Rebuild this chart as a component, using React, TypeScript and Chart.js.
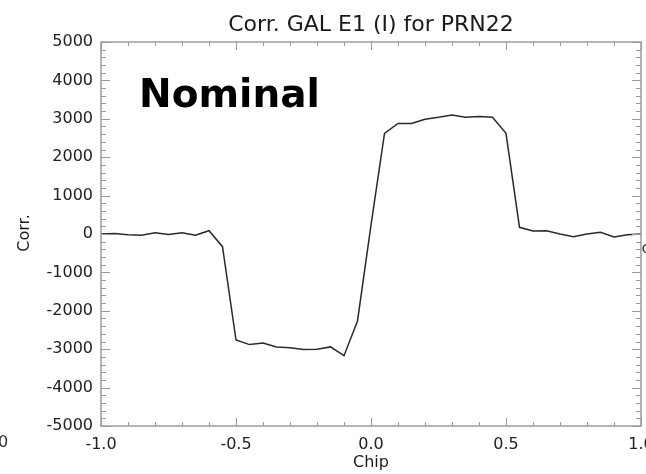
import React, { useEffect, useRef } from "react";
import { Chart, registerables } from "chart.js";

Chart.register(...registerables);

const chipValues = [
  -1.0, -0.95, -0.9, -0.85, -0.8, -0.75, -0.7, -0.65, -0.6, -0.55,
  -0.5, -0.45, -0.4, -0.35, -0.3, -0.25, -0.2, -0.15, -0.1, -0.05,
  0.0, 0.05, 0.1, 0.15, 0.2, 0.25, 0.3, 0.35, 0.4, 0.45,
  0.5, 0.55, 0.6, 0.65, 0.7, 0.75, 0.8, 0.85, 0.9, 0.95, 1.0,
];
const corrValues = [
  0, 15, -20, -30, 35, -10, 35, -30, 85, -330,
  -2760, -2880, -2840, -2940, -2960, -3010, -3000, -2940, -3170, -2265,
  230, 2620, 2880, 2880, 2990, 3040, 3100, 3040, 3060, 3040,
  2620, 175, 80, 85, 0, -70, 0, 45, -80, -20, 0,
];
const xTickMajor = [-1.0, -0.5, 0.0, 0.5, 1.0];
const xTickMinor = [-0.9, -0.8, -0.7, -0.6, -0.4, -0.3, -0.2, -0.1, 0.1, 0.2, 0.3, 0.4, 0.6, 0.7, 0.8, 0.9];
const yTickMajor = [-5000, -4000, -3000, -2000, -1000, 0, 1000, 2000, 3000, 4000, 5000];
const yMinorStep = 200;

const titleText = "Corr. GAL E1 (I) for PRN22";
const xTitle = "Chip";
const yTitle = "Corr.";
const annotation = "Nominal";

const FONT = "'DejaVu Sans', sans-serif";
const AXIS_COLOR = "#9a9a9a";

const framePlugin = {
  id: "frame",
  afterDraw(chart: any) {
    const { ctx, chartArea, scales } = chart;
    const { left, right, top, bottom } = chartArea;
    const xs = scales.x;
    const ys = scales.y;
    ctx.save();
    ctx.strokeStyle = AXIS_COLOR;
    ctx.lineWidth = 1.5;
    ctx.strokeRect(left, top, right - left, bottom - top);
    ctx.lineWidth = 1;
    ctx.beginPath();
    const vtick = (v: number, len: number) => {
      const px = Math.round(xs.getPixelForValue(v)) + 0.5;
      ctx.moveTo(px, bottom);
      ctx.lineTo(px, bottom - len);
      ctx.moveTo(px, top);
      ctx.lineTo(px, top + len);
    };
    xTickMajor.forEach((v) => vtick(v, 8));
    xTickMinor.forEach((v) => vtick(v, 4));
    const htick = (v: number, len: number) => {
      const py = Math.round(ys.getPixelForValue(v)) + 0.5;
      ctx.moveTo(left, py);
      ctx.lineTo(left + len, py);
      ctx.moveTo(right, py);
      ctx.lineTo(right - len, py);
    };
    for (let v = -5000; v <= 5000; v += yMinorStep) {
      if (v % 1000 === 0) htick(v, 9);
      else htick(v, 5);
    }
    ctx.stroke();

    ctx.fillStyle = "#1a1a1a";
    ctx.textAlign = "center";
    ctx.textBaseline = "middle";
    ctx.font = `22px ${FONT}`;
    ctx.fillText(titleText, (left + right) / 2, 25);
    ctx.font = `16px ${FONT}`;
    ctx.fillText(xTitle, (left + right) / 2, 463);
    ctx.save();
    ctx.translate(25, 233);
    ctx.rotate(-Math.PI / 2);
    ctx.fillText(yTitle, 0, 0);
    ctx.restore();

    ctx.fillStyle = "#333";
    ctx.fillText("0", 3, 443);
    ctx.fillText("c", 646, 249);

    ctx.fillStyle = "#000";
    ctx.font = `bold 39px ${FONT}`;
    ctx.textAlign = "left";
    ctx.fillText(annotation, 139, 97);
    ctx.restore();
  },
};

export default function App() {
  const ref = useRef<HTMLCanvasElement | null>(null);
  useEffect(() => {
    document.body.style.margin = "0";
    const canvas = ref.current!;
    const chart = new Chart(canvas, {
      type: "line",
      data: {
        datasets: [
          {
            data: chipValues.map((x, i) => ({ x, y: corrValues[i] })),
            borderColor: "#2a2a2a",
            borderWidth: 1.5,
            pointRadius: 0,
            tension: 0,
            fill: false,
          },
        ],
      },
      options: {
        animation: false,
        responsive: false,
        maintainAspectRatio: false,
        layout: { padding: { top: 42, right: 5, left: 0, bottom: 0 } },
        plugins: {
          legend: { display: false },
          title: { display: false },
          tooltip: { enabled: false },
        },
        scales: {
          x: {
            type: "linear",
            min: -1,
            max: 1,
            afterFit: (s: any) => {
              s.height = 48;
              s.paddingLeft = 0;
              s.paddingRight = 0;
            },
            afterBuildTicks: (s: any) => {
              s.ticks = xTickMajor.map((v) => ({ value: v }));
            },
            ticks: {
              font: { family: FONT, size: 16 },
              color: "#222",
              padding: 9,
              maxRotation: 0,
              autoSkip: false,
              callback: (v: any) => Number(v).toFixed(1),
            },
            grid: { display: false, drawTicks: false },
            border: { display: false },
          },
          y: {
            type: "linear",
            min: -5000,
            max: 5000,
            afterFit: (s: any) => {
              s.width = 101;
              s.paddingTop = 0;
              s.paddingBottom = 0;
            },
            afterBuildTicks: (s: any) => {
              s.ticks = yTickMajor.map((v) => ({ value: v }));
            },
            ticks: {
              font: { family: FONT, size: 16 },
              color: "#222",
              padding: 8,
              autoSkip: false,
              callback: (v: any) => String(v),
            },
            grid: { display: false, drawTicks: false },
            border: { display: false },
          },
        },
      },
      plugins: [framePlugin],
    });
    return () => chart.destroy();
  }, []);
  return (
    <div style={{ position: "absolute", left: 0, top: 0, width: 646, height: 474, background: "#fff" }}>
      <canvas ref={ref} width={646} height={474} style={{ width: 646, height: 474, display: "block" }} />
    </div>
  );
}
